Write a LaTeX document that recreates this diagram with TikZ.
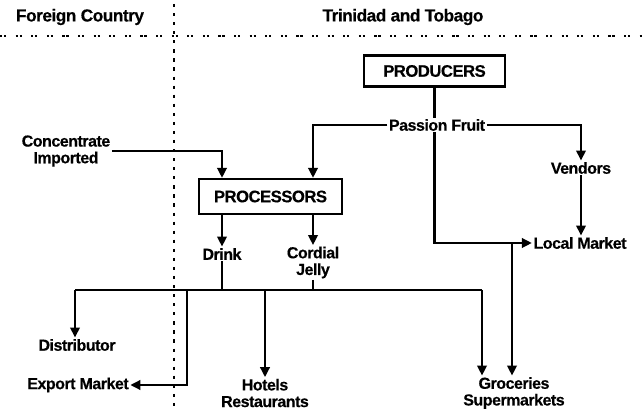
\documentclass[tikz,border=0pt]{standalone}
\usepackage{fontspec}
\setmainfont[BoldFeatures={FakeBold=0.4,LetterSpace=-3}]{Liberation Sans}
\usetikzlibrary{arrows.meta}
\begin{document}
\begin{tikzpicture}[x=0.75pt,y=-0.75pt,
  lbl/.style={font=\bfseries\fontsize{12}{12.5}\selectfont, inner sep=1pt, align=center},
  hdr/.style={font=\bfseries\fontsize{13}{14}\selectfont, inner sep=1pt},
  boxnode/.style={draw, line width=1.9pt, font=\bfseries\fontsize{12.5}{14}\selectfont, inner sep=0pt},
  conn/.style={line width=1.9pt},
  arr/.style={conn, -{Triangle[length=7.5pt,width=7pt]}},
  vdots/.style={line width=2.2pt, dash pattern=on 2.4pt off 4.4pt},
  hdots/.style={line width=1.9pt, dash pattern=on 1.7pt off 1.3pt on 1.7pt off 7pt}]
\useasboundingbox (0,0) rectangle (642,409);
% borders of the regions
\coordinate (vtop) at (174,4);
\coordinate (vbot) at (174,409);
\coordinate (hl) at (0,36);
\coordinate (hr) at (642,36);
\draw[vdots] (vtop) -- (vbot);
\draw[hdots] (hl) -- (hr);
\node[hdr] (fc) at (80,17) {Foreign Country};
\node[hdr] (tt) at (403,17) {Trinidad and Tobago};
% nodes
\node[boxnode, minimum width=105.5pt, minimum height=23pt] (prod) at (434.5,71) {PRODUCERS};
\node[lbl] (pf) at (437,125) {Passion Fruit};
\node[lbl] (vend) at (581,168) {Vendors};
\node[lbl] (lm) at (580,243) {Local Market};
\node[boxnode, minimum width=107pt, minimum height=26pt] (proc) at (270.5,196.5) {PROCESSORS};
\node[lbl] (conc) at (66,151) {Concentrate\\Imported};
\node[lbl] (drink) at (222,254) {Drink};
\node[lbl] (cj) at (313,262.5) {Cordial\\Jelly};
\node[lbl] (dist) at (77,345) {Distributor};
\node[lbl] (exp) at (78,385) {Export Market};
\node[lbl] (hot) at (265,393) {Hotels\\Restaurants};
\node[lbl] (gro) at (514,393) {Groceries\\Supermarkets};
% junction points
\coordinate (busL) at (75,290);
\coordinate (busR) at (482,290);
\coordinate (ej) at (187,290);
\coordinate (hj) at (265,290);
\coordinate (lj) at (512,243);
% connectors
\draw[conn] (prod.south) -- (prod.south |- pf.north);
\draw[arr] (pf.west) -| (proc.north -| cj);
\draw[arr] (pf.east) -| (vend.north);
\draw[arr] (vend.south) -- (vend.south |- lm.north);
\draw[arr] (pf.south -| prod.south) |- (lm.west);
\draw[arr] (lj) -- (lj |- gro.north);
\draw[arr] (conc.east) -| (proc.north -| drink);
\draw[arr] (proc.south -| drink) -- (drink.north);
\draw[arr] (proc.south -| cj) -- (cj.north);
\draw[conn] (drink.south) -- (drink.south |- busL);
\draw[conn] (cj.south) -- (cj.south |- busL);
\draw[conn] (busL) -- (busR);
\draw[arr] (busL) -- (busL |- dist.north);
\draw[arr] (ej) |- (exp.east);
\draw[arr] (hj) -- (hj |- hot.north);
\draw[arr] (busR) -- (busR |- gro.north);
\end{tikzpicture}
\end{document}
